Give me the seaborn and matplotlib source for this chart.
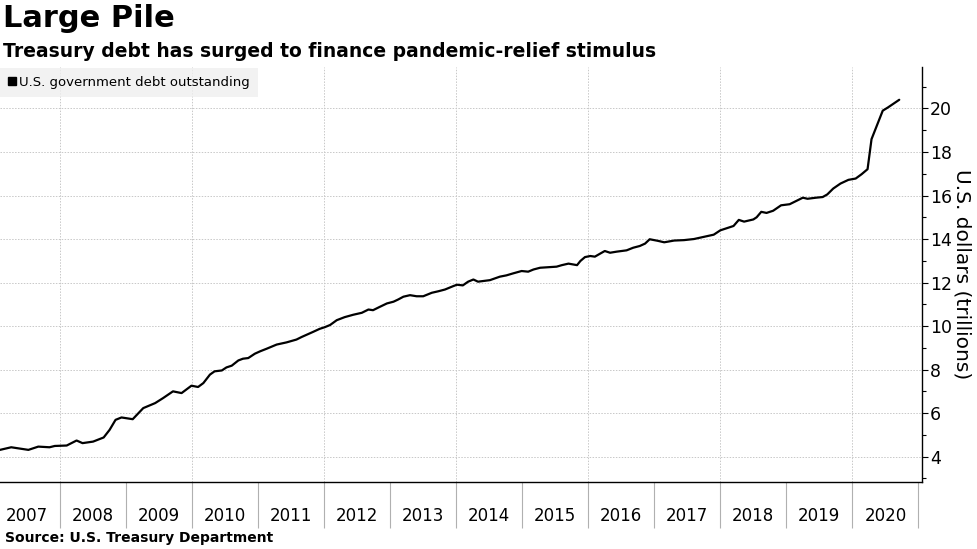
import matplotlib
matplotlib.use("Agg")
import matplotlib.pyplot as plt
from matplotlib.lines import Line2D
from matplotlib.ticker import MultipleLocator, FixedLocator
import seaborn as sns
import pandas as pd

# fractional year -> debt outstanding (trillions USD)
years = [
    2007.09, 2007.26, 2007.39, 2007.52, 2007.67, 2007.84, 2007.92, 2008.10,
    2008.25, 2008.34, 2008.50, 2008.66, 2008.75, 2008.84, 2008.93, 2009.10,
    2009.26, 2009.44, 2009.56, 2009.71, 2009.84, 2009.99, 2010.09, 2010.17,
    2010.27, 2010.34, 2010.45, 2010.52, 2010.60, 2010.70, 2010.77, 2010.85,
    2010.95, 2011.03, 2011.13, 2011.28, 2011.43, 2011.58, 2011.66, 2011.83,
    2011.93, 2012.01, 2012.09, 2012.19, 2012.31, 2012.44, 2012.57, 2012.67,
    2012.74, 2012.84, 2012.95, 2013.05, 2013.12, 2013.20, 2013.30, 2013.40,
    2013.50, 2013.63, 2013.73, 2013.83, 2013.95, 2014.01, 2014.10, 2014.18,
    2014.26, 2014.33, 2014.51, 2014.66, 2014.76, 2014.86, 2014.99, 2015.09,
    2015.17, 2015.27, 2015.42, 2015.52, 2015.60, 2015.70, 2015.83, 2015.88,
    2015.95, 2016.03, 2016.10, 2016.18, 2016.25, 2016.33, 2016.43, 2016.58,
    2016.68, 2016.78, 2016.86, 2016.93, 2017.05, 2017.15, 2017.30, 2017.45,
    2017.60, 2017.75, 2017.90, 2018.00, 2018.10, 2018.20, 2018.28, 2018.36,
    2018.50, 2018.55, 2018.62, 2018.70, 2018.80, 2018.92, 2019.05, 2019.15,
    2019.25, 2019.32, 2019.45, 2019.55, 2019.62, 2019.71, 2019.82, 2019.94,
    2020.05, 2020.14, 2020.23, 2020.29, 2020.46, 2020.54, 2020.71,
]
debt = [
    4.31, 4.43, 4.37, 4.31, 4.46, 4.43, 4.49, 4.51,
    4.74, 4.62, 4.69, 4.88, 5.23, 5.69, 5.80, 5.72,
    6.23, 6.46, 6.69, 7.00, 6.92, 7.26, 7.20, 7.38,
    7.77, 7.92, 7.96, 8.10, 8.18, 8.42, 8.50, 8.53,
    8.73, 8.84, 8.96, 9.15, 9.25, 9.38, 9.50, 9.73,
    9.87, 9.95, 10.05, 10.27, 10.41, 10.52, 10.61, 10.76,
    10.73, 10.88, 11.04, 11.12, 11.22, 11.35, 11.42, 11.37,
    11.37, 11.53, 11.60, 11.68, 11.83, 11.90, 11.87, 12.04,
    12.14, 12.04, 12.11, 12.27, 12.33, 12.42, 12.53, 12.50,
    12.60, 12.68, 12.71, 12.73, 12.80, 12.87, 12.80, 12.99,
    13.17, 13.22, 13.19, 13.33, 13.45, 13.37, 13.42, 13.48,
    13.60, 13.68, 13.79, 13.99, 13.92, 13.85, 13.93, 13.95,
    14.00, 14.10, 14.20, 14.40, 14.50, 14.60, 14.88, 14.80,
    14.90, 15.00, 15.25, 15.20, 15.30, 15.55, 15.60, 15.75,
    15.90, 15.85, 15.90, 15.93, 16.05, 16.32, 16.55, 16.72,
    16.78, 16.98, 17.21, 18.59, 19.90, 20.05, 20.40,
]
year_labels = [str(y) for y in range(2007, 2021)]

df = pd.DataFrame({"year": years, "debt": debt})

sns.set_style("white")
plt.rcParams["font.family"] = ["DejaVu Sans"]
plt.rcParams["text.color"] = "black"
plt.rcParams["axes.labelcolor"] = "black"
plt.rcParams["xtick.color"] = "black"
plt.rcParams["ytick.color"] = "black"

fig = plt.figure(figsize=(9.77, 5.49), dpi=100)
ax = fig.add_axes([0.0, 0.1215, 0.9434, 0.757])

sns.lineplot(data=df, x="year", y="debt", ax=ax, color="black", linewidth=1.6)

ax.set_xlim(2007.09, 2021.05)
ax.set_ylim(2.82, 21.92)

# y axis on the right
ax.yaxis.tick_right()
ax.yaxis.set_label_position("right")
ax.set_yticks(range(4, 21, 2))
ax.yaxis.set_minor_locator(MultipleLocator(1))
ax.tick_params(axis="y", which="both", right=True, left=False)
ax.tick_params(axis="y", which="major", length=4, width=0.8, labelsize=12.5, pad=2)
ax.tick_params(axis="y", which="minor", length=3, width=0.8)
ax.set_ylabel("U.S. dollars (trillions)", rotation=270, fontsize=14.5, labelpad=14)

# year labels in the middle, separators at year boundaries
ax.xaxis.set_major_locator(FixedLocator([y + 0.5 for y in range(2007, 2021)]))
ax.set_xticklabels(year_labels)
ax.xaxis.set_minor_locator(FixedLocator(list(range(2008, 2022))))
ax.tick_params(axis="x", which="both", bottom=True)
ax.tick_params(axis="x", which="major", length=0, labelsize=12, pad=18)
ax.tick_params(axis="x", which="minor", length=33, width=0.8, color="#b0b0b0")
ax.set_xlabel("")

ax.grid(False)
for v in range(4, 22, 2):
    ax.axhline(v, color="#c8c8c8", linewidth=0.7, linestyle=(0, (1.5, 1.5)), zorder=0)
for v in range(2008, 2022, 2):
    ax.axvline(v, color="#c8c8c8", linewidth=0.7, linestyle=(0, (1.5, 1.5)), zorder=0)

for side in ["top", "left"]:
    ax.spines[side].set_visible(False)
for side in ["right", "bottom"]:
    ax.spines[side].set_color("black")
    ax.spines[side].set_linewidth(1.0)

handle = Line2D([], [], marker="s", color="black", linestyle="none", markersize=6)
leg = ax.legend([handle], ["U.S. government debt outstanding"], loc="upper left",
                bbox_to_anchor=(0.0, 0.997), borderaxespad=0, frameon=True,
                fancybox=False, fontsize=9.5, handlelength=0.6, handletextpad=0.25,
                borderpad=0.6)
leg.get_frame().set_facecolor("#efefef")
leg.get_frame().set_edgecolor("none")

fig.text(0.003, 0.993, "Large Pile", fontsize=22, fontweight="bold", va="top", ha="left")
fig.text(0.003, 0.897, "Treasury debt has surged to finance pandemic-relief stimulus",
         fontsize=13.5, fontweight="bold", va="baseline", ha="left")
fig.text(0.005, 0.008, "Source: U.S. Treasury Department", fontsize=10,
         fontweight="bold", va="bottom", ha="left")

fig.savefig("out.png", dpi=100)
